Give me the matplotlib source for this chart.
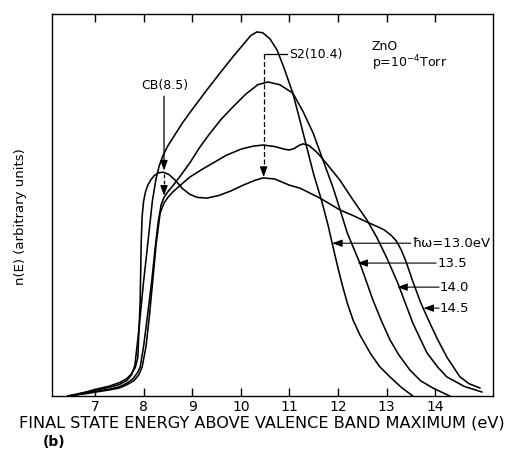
import numpy as np
import matplotlib
matplotlib.use("Agg")
import matplotlib.pyplot as plt

# n(E) curves (arbitrary units, 0-100 = axes height)
x_130 = [6.45, 6.8, 7.0, 7.3, 7.5, 7.65, 7.75, 7.82, 7.9, 8.0, 8.1, 8.18, 8.25, 8.32, 8.4,
         8.5, 8.6, 8.8, 9.0, 9.3, 9.6, 9.85, 10.05, 10.2, 10.33, 10.45, 10.6, 10.75, 10.9,
         11.07, 11.2, 11.36, 11.5, 11.66, 11.8, 11.88, 12.0, 12.1, 12.2, 12.31, 12.45, 12.66,
         12.85, 13.07, 13.3, 13.54]
y_130 = [0, 0.9, 1.5, 2.3, 3.0, 4.0, 5.5, 8.0, 17, 30, 41.5, 51, 56.5, 60.2, 63,
         65.5, 67.5, 71.5, 75.0, 80.1, 85, 89, 92, 94.3, 95.3, 95.1, 93.5, 90.5, 85.5,
         79.3, 73, 65, 58, 51.3, 44.5, 40, 33.5, 28.5, 24, 19.9, 16, 11.3,
         7.8, 5.0, 2.3, 0]

x_135 = [6.45, 6.8, 7.0, 7.3, 7.5, 7.65, 7.78, 7.88, 7.93, 8.0, 8.08, 8.17, 8.24, 8.3, 8.36,
         8.42, 8.5, 8.6, 8.75, 8.95, 9.16, 9.35, 9.6, 9.84, 10.1, 10.35, 10.56, 10.8, 11.07,
         11.28, 11.49, 11.67, 11.9, 12.05, 12.19, 12.45, 12.72, 12.9, 13.07, 13.25, 13.48,
         13.7, 13.95, 14.3]
y_135 = [0, 0.7, 1.2, 1.8, 2.4, 3.3, 4.5, 6.2, 7.6, 13, 21, 30.4, 39, 45.5, 50,
         52, 53.5, 55, 57.5, 61, 65.2, 68.5, 72.5, 75.7, 79, 81.5, 82.2, 81.5, 79.3,
         74.5, 68.8, 62.5, 54.5, 48.5, 42.7, 34.8, 25.1, 19.5, 14.7, 10.8, 6.8,
         4.0, 2.1, 0]

x_140 = [6.45, 6.8, 7.0, 7.3, 7.5, 7.65, 7.8, 7.9, 7.97, 8.05, 8.12, 8.19, 8.26, 8.34, 8.42,
         8.5, 8.6, 8.75, 8.95, 9.2, 9.43, 9.7, 10.0, 10.25, 10.46, 10.7, 10.9, 11.0, 11.1,
         11.2, 11.28, 11.4, 11.55, 11.67, 11.85, 12.04, 12.31, 12.6, 12.8, 13.01, 13.23,
         13.54, 13.83, 14.05, 14.24, 14.6, 14.96]
y_140 = [0, 0.6, 1.0, 1.6, 2.1, 2.9, 4.0, 5.5, 7.6, 13, 21, 30.4, 40, 47.9, 50.5,
         52, 53.4, 55.1, 57.3, 59.3, 61, 63, 64.6, 65.4, 65.7, 65.3, 64.6, 64.4, 64.8,
         65.6, 66, 65.6, 64, 62.3, 59.5, 56.5, 51.3, 46, 41.5, 36, 29.6,
         19.1, 11.3, 7.6, 5.0, 2.5, 1.05]

x_145 = [6.45, 6.8, 7.0, 7.3, 7.5, 7.65, 7.75, 7.83, 7.88, 7.93, 7.95, 7.97, 8.0, 8.04, 8.09,
         8.15, 8.22, 8.3, 8.4, 8.52, 8.65, 8.8, 8.95, 9.1, 9.3, 9.55, 9.8, 10.05, 10.3, 10.46,
         10.7, 11.0, 11.22, 11.63, 12.04, 12.3, 12.6, 12.8, 12.95, 13.1, 13.2, 13.3, 13.4,
         13.54, 13.7, 13.89, 14.05, 14.24, 14.51, 14.7, 14.92]
y_145 = [0, 1.0, 1.7, 2.6, 3.5, 4.5, 5.8, 7.5, 10, 25, 40, 47, 51, 53.5, 55.3,
         56.6, 57.7, 58.4, 58.6, 58, 56.5, 54.3, 52.8, 52, 51.8, 52.5, 53.7, 55.2, 56.5, 57.1,
         56.8, 55.2, 54.4, 51.8, 48.7, 47.3, 45.5, 44.4, 43.5, 42.0, 40.6, 38.3, 35.2,
         30.0, 24.5, 19.1, 14.8, 10.2, 5.0, 3.2, 2.1]

xticks = [7, 8, 9, 10, 11, 12, 13, 14]

# photon energy labels: (text, text x, y, arrow tip x)
hw_labels = [("ħω=13.0eV", 13.52, 40.0, 11.88),
             ("13.5", 14.04, 34.8, 12.40),
             ("14.0", 14.10, 28.5, 13.22),
             ("14.5", 14.10, 23.0, 13.76)]

fig = plt.figure(figsize=(5.14, 4.54), dpi=100)
ax = fig.add_axes([52 / 514, 58 / 454, 441 / 514, 382 / 454])

for xs, ys in [(x_130, y_130), (x_135, y_135), (x_140, y_140), (x_145, y_145)]:
    ax.plot(xs, ys, color="black", lw=1.15, solid_joinstyle="round")

ax.set_xlim(6.115, 15.19)
ax.set_ylim(0, 100)
ax.set_yticks([])
ax.set_xticks(xticks)
ax.tick_params(axis="x", direction="in", top=True, bottom=True, length=6, width=1,
               labelsize=10, pad=3)
for s in ax.spines.values():
    s.set_linewidth(1.0)

head = dict(arrowstyle="-|>,head_length=0.6,head_width=0.22", color="black",
            lw=0.9, mutation_scale=10, shrinkA=0, shrinkB=0)

# CB(8.5) marker
ax.text(8.44, 81.2, "CB(8.5)", ha="center", va="center", fontsize=9)
ax.annotate("", xy=(8.42, 59.0), xytext=(8.42, 78.5), arrowprops=head)
ax.plot([8.42, 8.42], [58.0, 54.5], color="black", lw=0.9, ls=(0, (3, 2)))
ax.annotate("", xy=(8.42, 52.4), xytext=(8.42, 54.8), arrowprops=head)

# S2(10.4) marker
ax.text(11.0, 89.5, "S2(10.4)", ha="left", va="center", fontsize=9)
ax.plot([10.47, 10.95], [89.5, 89.5], color="black", lw=0.9)
ax.plot([10.47, 10.47], [89.5, 59.5], color="black", lw=0.9, ls=(0, (4, 2)))
ax.annotate("", xy=(10.47, 57.3), xytext=(10.47, 60.0), arrowprops=head)

ax.text(12.70, 91.4, "ZnO", ha="left", va="center", fontsize=9)
ax.text(12.70, 87.0, r"p=10$^{-4}$Torr", ha="left", va="center", fontsize=9)

for lab, tx, ty, tip in hw_labels:
    ax.text(tx, ty, lab, ha="left", va="center", fontsize=9.5)
    ax.annotate("", xy=(tip, ty), xytext=(tx - 0.02, ty),
                arrowprops=dict(head, lw=0.8))

fig.text(0.509, 0.068, "FINAL STATE ENERGY ABOVE VALENCE BAND MAXIMUM (eV)",
         ha="center", va="center", fontsize=11.6)
fig.text(0.084, 0.026, "(b)", ha="left", va="center", fontsize=10, fontweight="bold")
fig.text(0.039, 0.522, "n(E) (arbitrary units)", ha="center", va="center",
         rotation=90, fontsize=9.5)

fig.savefig("out.png", dpi=100)
